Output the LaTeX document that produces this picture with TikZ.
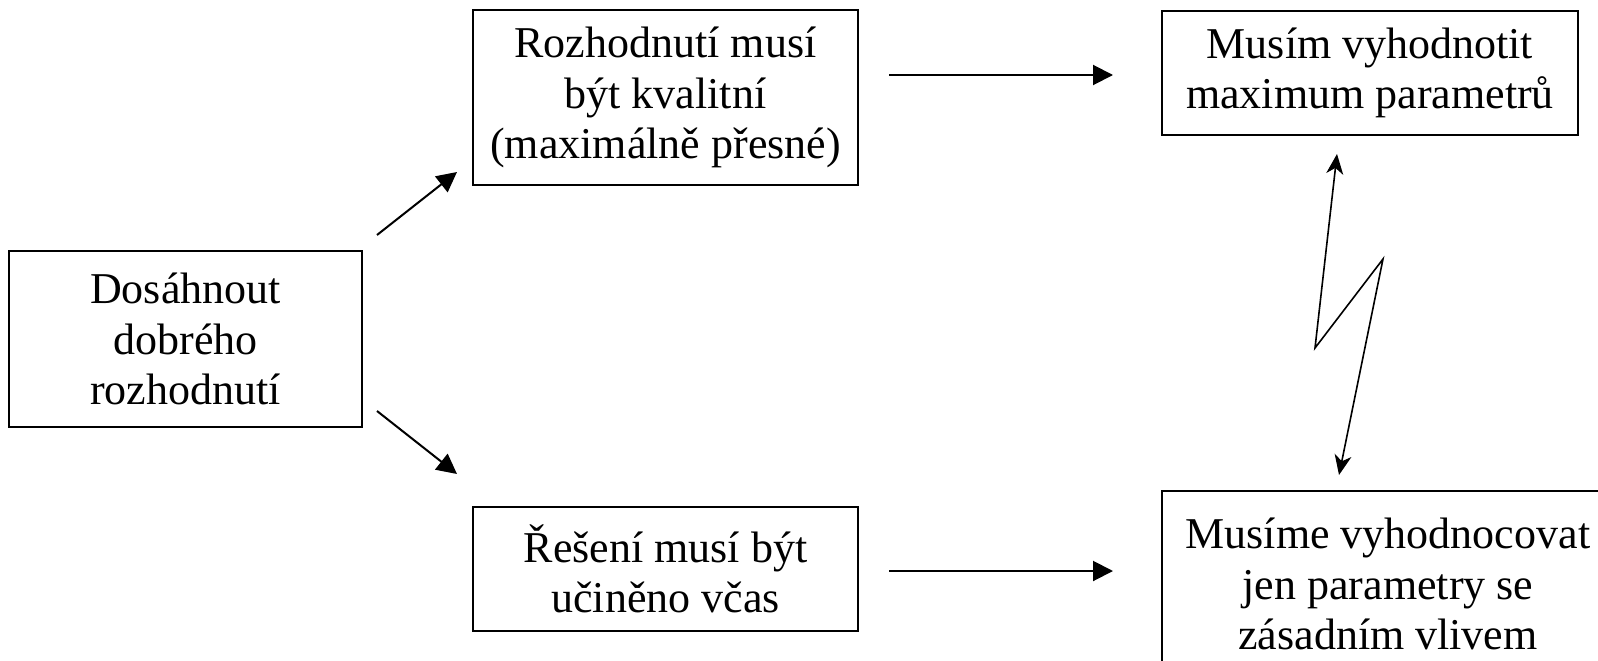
\documentclass[tikz,border=0pt]{standalone}
\usepackage{fontspec}
\setmainfont{Liberation Serif}
\usetikzlibrary{arrows.meta}
\begin{document}
\begin{tikzpicture}[x=1pt,y=-1pt,
  box/.style={draw,line width=2.2pt,rectangle,inner sep=0pt,align=center,font=\fontsize{44}{50.6}\selectfont},
  flow/.style={line width=2pt,-{Triangle[length=20pt,width=20pt]}},
  bolt/.style={line width=1.6pt,line join=miter,{Stealth[length=20pt,width=17pt,inset=6pt]}-{Stealth[length=20pt,width=17pt,inset=6pt]}}]
\useasboundingbox (0,0) rectangle (1598,661);
\node[box,minimum width=353pt,minimum height=176pt] (L) at (185.5,339) {Dosáhnout\\dobrého\\rozhodnutí};
\node[box,minimum width=385pt,minimum height=175pt] (TM) at (665.5,97.5) {Rozhodnutí musí\\být kvalitní\\(maximálně přesné)};
\node[box,minimum width=385pt,minimum height=124pt] (BM) at (665.5,569) {Řešení musí být\\učiněno včas};
\node[box,minimum width=416pt,minimum height=124pt] (TR) at (1370,73) {Musím vyhodnotit\\maximum parametrů};
\begin{scope}
\clip (0,0) rectangle (1598,661);
\node[box,minimum width=452pt,minimum height=186pt] (BR) at (1388,584) {Musíme vyhodnocovat\\jen parametry se\\zásadním vlivem};
\end{scope}
\coordinate (a1s) at (377,235);
\coordinate (a1e) at (457,172);
\coordinate (a2s) at (377,411);
\coordinate (a2e) at (457,474);
\coordinate (a3s) at (889,75);
\coordinate (a3e) at (1113,75);
\coordinate (a4s) at (889,571);
\coordinate (a4e) at (1113,571);
\coordinate (z1) at (1337,154);
\coordinate (z2) at (1315,348);
\coordinate (z3) at (1383,259);
\coordinate (z4) at (1339,475);
\draw[flow] (a1s) -- (a1e);
\draw[flow] (a2s) -- (a2e);
\draw[flow] (a3s) -- (a3e);
\draw[flow] (a4s) -- (a4e);
\draw[bolt] (z1) -- (z2) -- (z3) -- (z4);
\end{tikzpicture}
\end{document}
